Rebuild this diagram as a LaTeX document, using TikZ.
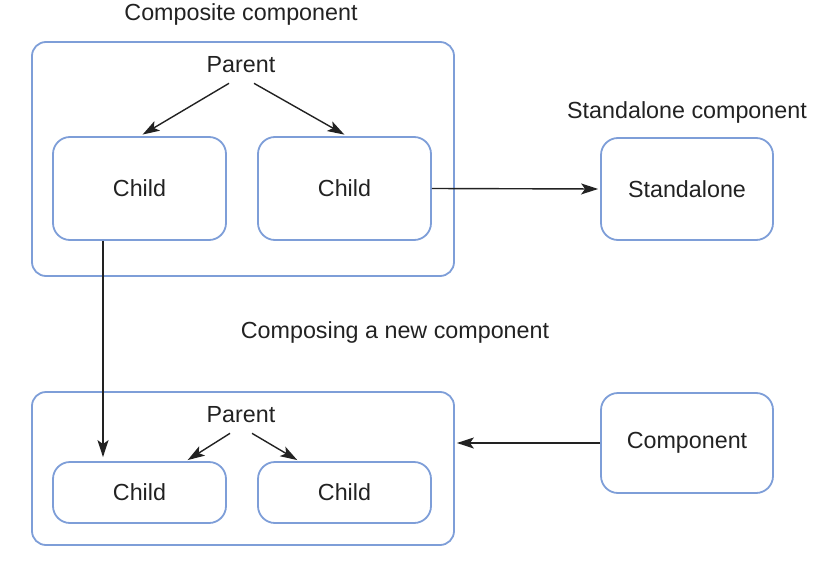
\documentclass[tikz,border=0pt]{standalone}
\usepackage{fontspec}
\setmainfont{Liberation Sans}
\usetikzlibrary{arrows.meta}
\definecolor{boxblue}{HTML}{7E9ED8}
\definecolor{ink}{HTML}{222222}
\begin{document}
\begin{tikzpicture}[x=1pt,y=-1pt,
  every node/.style={font=\fontsize{23.3}{28}\selectfont, text=ink},
  outerbox/.style={draw=boxblue, line width=1.8pt, rounded corners=14pt, inner sep=0pt},
  innerbox/.style={draw=boxblue, line width=1.8pt, rounded corners=17pt, inner sep=0pt},
  lbl/.style={inner sep=0pt},
  arr/.style={draw=ink, line width=1.4pt, -{Stealth[length=17pt,width=11pt,inset=4pt]}}]
\useasboundingbox (0,0) rectangle (838,578);
% top composite
\node[lbl] (tcap) at (241,14) {Composite component};
\node[outerbox, minimum width=422pt, minimum height=234pt] (top) at (243,159) {};
\node[lbl] (ptop) at (241,65) {Parent};
\node[innerbox, minimum width=173pt, minimum height=103pt] (c1) at (139.5,188.5) {Child};
\node[innerbox, minimum width=173pt, minimum height=103pt] (c2) at (344.5,188.5) {Child};
% standalone
\node[lbl] (scap) at (687,112) {Standalone component};
\node[innerbox, minimum width=172pt, minimum height=102pt] (sa) at (687,189) {Standalone};
% bottom
\node[lbl] (bcap) at (395,332) {Composing a new component};
\node[outerbox, minimum width=422pt, minimum height=153pt] (bot) at (243,468.5) {};
\node[lbl] (pbot) at (241,415) {Parent};
\node[innerbox, minimum width=173pt, minimum height=61pt] (bc1) at (139.5,492.5) {Child};
\node[innerbox, minimum width=173pt, minimum height=61pt] (bc2) at (344.5,492.5) {Child};
\node[innerbox, minimum width=172pt, minimum height=100pt] (cmp) at (687,443) {Component};
% arrows
\draw[arr, shorten >=3pt] ([xshift=-12pt,yshift=-10pt]ptop.south) -- ([xshift=0.5pt]c1.north);
\draw[arr, shorten >=3pt] ([xshift=13pt,yshift=-10pt]ptop.south) -- ([xshift=2.5pt]c2.north);
\draw[arr, shorten >=2pt] (c2.east) -- (sa.west);
\draw[arr, shorten >=4pt] ([xshift=-36.5pt]c1.south) -- ([xshift=-36.5pt]bc1.north);
\draw[arr, shorten >=2pt] ([xshift=-11pt,yshift=-10pt]pbot.south) -- ([xshift=46.5pt]bc1.north);
\draw[arr, shorten >=2pt] ([xshift=11pt,yshift=-10pt]pbot.south) -- ([xshift=-45.5pt]bc2.north);
\draw[arr, shorten >=2pt] (cmp.west) -- (cmp.west -| bot.east);
\end{tikzpicture}
\end{document}
